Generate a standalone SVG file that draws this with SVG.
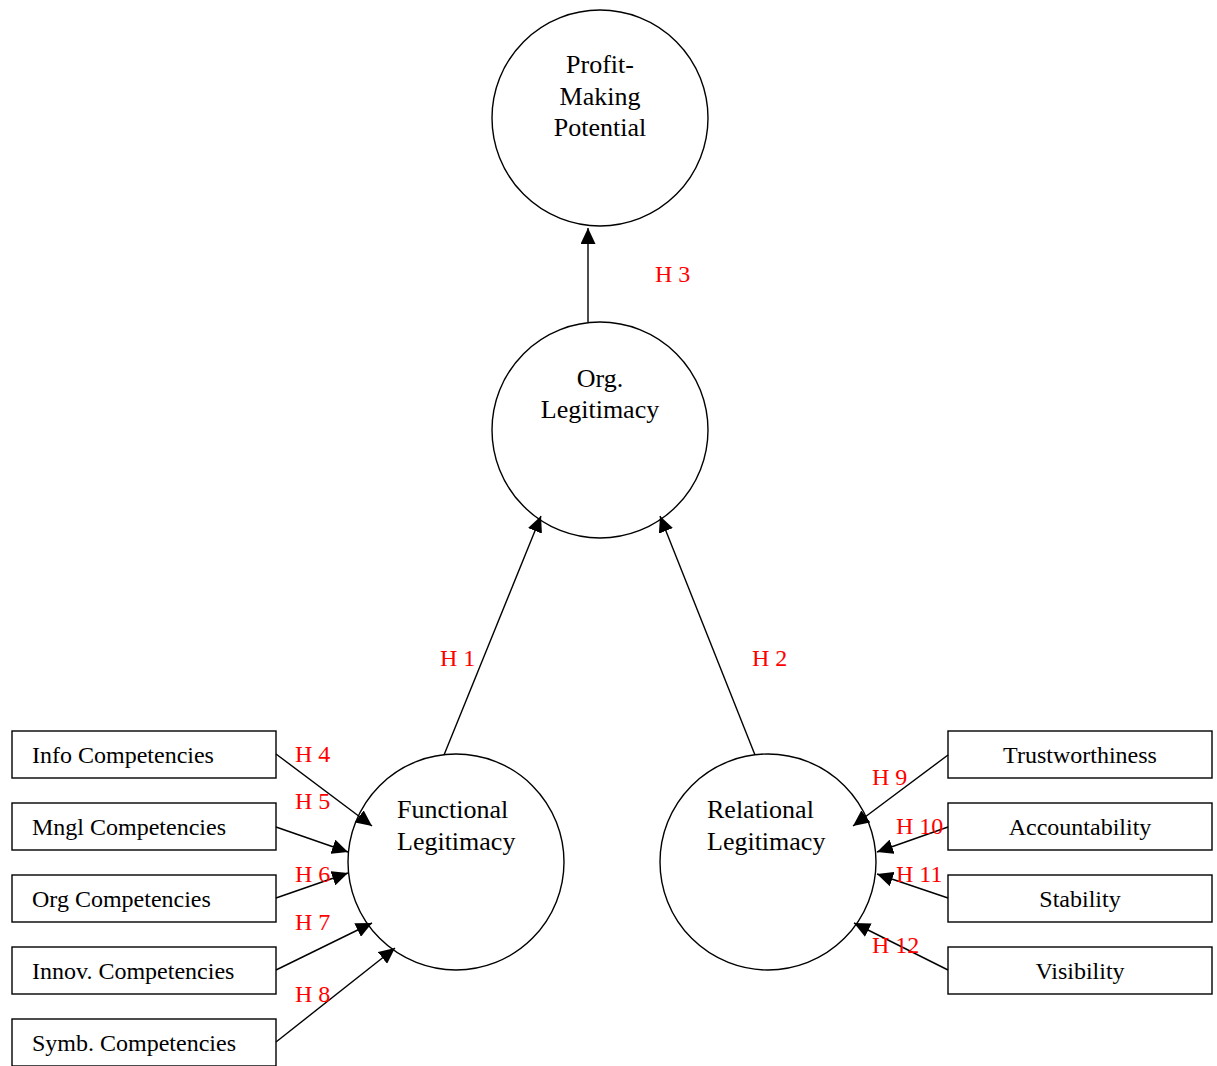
<svg xmlns="http://www.w3.org/2000/svg" width="1217" height="1066" viewBox="0 0 1217 1066">
<style>
.node circle, .node rect { fill: #ffffff; stroke: #000000; stroke-width: 1.4; }
.lbl { font-family: "Liberation Serif", "Times New Roman", serif; font-size: 24px; fill: #000000; }
.big { font-family: "Liberation Serif", "Times New Roman", serif; font-size: 26px; fill: #000000; }
.h { font-family: "Liberation Serif", "Times New Roman", serif; font-size: 24px; fill: #ff0000; }
.edges line { stroke: #000000; stroke-width: 1.4; marker-end: url(#arr); }
</style>
<defs>
<marker id="arr" viewBox="0 0 16 15" refX="16" refY="7.5" markerWidth="16" markerHeight="15" markerUnits="userSpaceOnUse" orient="auto">
<path d="M0,0 L16,7.5 L0,15 Z" fill="#000000"/>
</marker>
</defs>
<rect x="0" y="0" width="1217" height="1066" fill="#ffffff"/>

<g id="profit" class="node">
<circle cx="600" cy="118" r="108"/>
<text class="big" x="600" y="73" text-anchor="middle">Profit-</text>
<text class="big" x="600" y="105" text-anchor="middle">Making</text>
<text class="big" x="600" y="136" text-anchor="middle">Potential</text>
</g>
<g id="orglegit" class="node">
<circle cx="600" cy="430" r="108"/>
<text class="big" x="600" y="387" text-anchor="middle">Org.</text>
<text class="big" x="600" y="418" text-anchor="middle">Legitimacy</text>
</g>
<g id="functional" class="node">
<circle cx="456" cy="862" r="108"/>
<text class="big" x="397" y="818">Functional</text>
<text class="big" x="397" y="850">Legitimacy</text>
</g>
<g id="relational" class="node">
<circle cx="768" cy="862" r="108"/>
<text class="big" x="707" y="818">Relational</text>
<text class="big" x="707" y="850">Legitimacy</text>
</g>

<g id="info" class="node"><rect x="12" y="731" width="264" height="47"/><text class="lbl" x="32" y="763">Info Competencies</text></g>
<g id="mngl" class="node"><rect x="12" y="803" width="264" height="47"/><text class="lbl" x="32" y="835">Mngl Competencies</text></g>
<g id="org" class="node"><rect x="12" y="875" width="264" height="47"/><text class="lbl" x="32" y="907">Org Competencies</text></g>
<g id="innov" class="node"><rect x="12" y="947" width="264" height="47"/><text class="lbl" x="32" y="979">Innov. Competencies</text></g>
<g id="symb" class="node"><rect x="12" y="1019" width="264" height="47"/><text class="lbl" x="32" y="1051">Symb. Competencies</text></g>

<g id="trust" class="node"><rect x="948" y="731" width="264" height="47"/><text class="lbl" x="1080" y="763" text-anchor="middle">Trustworthiness</text></g>
<g id="account" class="node"><rect x="948" y="803" width="264" height="47"/><text class="lbl" x="1080" y="835" text-anchor="middle">Accountability</text></g>
<g id="stab" class="node"><rect x="948" y="875" width="264" height="47"/><text class="lbl" x="1080" y="907" text-anchor="middle">Stability</text></g>
<g id="vis" class="node"><rect x="948" y="947" width="264" height="47"/><text class="lbl" x="1080" y="979" text-anchor="middle">Visibility</text></g>

<g id="connectors" class="edges">
<line x1="588" y1="322" x2="588" y2="228"/>
<line x1="444" y1="755" x2="541" y2="516"/>
<line x1="755" y1="755" x2="660" y2="516"/>
<line x1="276" y1="754" x2="372" y2="826"/>
<line x1="276" y1="827" x2="348" y2="852"/>
<line x1="276" y1="898" x2="348" y2="873"/>
<line x1="276" y1="970" x2="372" y2="923"/>
<line x1="276" y1="1042" x2="395" y2="948"/>
<line x1="948" y1="755" x2="853" y2="826"/>
<line x1="948" y1="827" x2="877" y2="852"/>
<line x1="948" y1="898" x2="877" y2="874"/>
<line x1="948" y1="970" x2="854" y2="923"/>
<text class="h" x="655" y="282">H 3</text>
<text class="h" x="440" y="666">H 1</text>
<text class="h" x="752" y="666">H 2</text>
<text class="h" x="295" y="762">H 4</text>
<text class="h" x="295" y="809">H 5</text>
<text class="h" x="295" y="882">H 6</text>
<text class="h" x="295" y="930">H 7</text>
<text class="h" x="295" y="1002">H 8</text>
<text class="h" x="872" y="785">H 9</text>
<text class="h" x="896" y="834">H 10</text>
<text class="h" x="896" y="882">H 11</text>
<text class="h" x="872" y="953">H 12</text>
</g>
</svg>
